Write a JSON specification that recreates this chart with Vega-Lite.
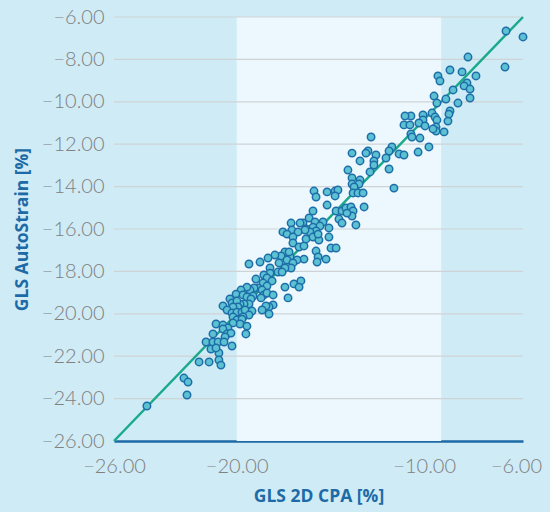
{
  "$schema": "https://vega.github.io/schema/vega-lite/v6.json",
  "width": 409,
  "height": 424,
  "autosize": {"type": "none"},
  "padding": {"left": 114, "top": 17, "right": 27, "bottom": 71},
  "background": "#cfebf6",
  "config": {"view": {"stroke": null}},
  "datasets": {
    "band": [{"x1": -20, "x2": -10, "y1": -26, "y2": -6}],
    "grid": [{"g": -24}, {"g": -22}, {"g": -20}, {"g": -18}, {"g": -16}, {"g": -14}, {"g": -12}, {"g": -10}, {"g": -8}, {"g": -6}],
    "ident": [{"cpa": -26, "auto": -26}, {"cpa": -6, "auto": -6}],
    "pts": [
      {"cpa": -24.39, "auto": -24.35}, {"cpa": -22.58, "auto": -23.03}, {"cpa": -22.38, "auto": -23.22}, {"cpa": -22.43, "auto": -23.83},
      {"cpa": -21.84, "auto": -22.27}, {"cpa": -21.35, "auto": -22.27}, {"cpa": -21.26, "auto": -21.66}, {"cpa": -20.87, "auto": -21.85},
      {"cpa": -20.87, "auto": -22.18}, {"cpa": -20.77, "auto": -22.42}, {"cpa": -16.22, "auto": -14.21}, {"cpa": -16.12, "auto": -14.49},
      {"cpa": -15.58, "auto": -14.25}, {"cpa": -15.19, "auto": -14.21}, {"cpa": -15.05, "auto": -14.16}, {"cpa": -15.19, "auto": -14.44},
      {"cpa": -15.58, "auto": -14.87}, {"cpa": -15.14, "auto": -15.15}, {"cpa": -14.85, "auto": -15.15}, {"cpa": -14.66, "auto": -15.01},
      {"cpa": -14.41, "auto": -14.96}, {"cpa": -14.31, "auto": -15.15}, {"cpa": -14.36, "auto": -15.39}, {"cpa": -14.61, "auto": -15.25},
      {"cpa": -14.17, "auto": -15.81}, {"cpa": -15.00, "auto": -15.53}, {"cpa": -14.85, "auto": -15.72}, {"cpa": -16.27, "auto": -15.15},
      {"cpa": -16.46, "auto": -15.48}, {"cpa": -16.76, "auto": -15.72}, {"cpa": -16.90, "auto": -15.72}, {"cpa": -16.61, "auto": -16.00},
      {"cpa": -16.17, "auto": -15.67}, {"cpa": -15.78, "auto": -15.67}, {"cpa": -15.93, "auto": -15.86}, {"cpa": -16.27, "auto": -15.91},
      {"cpa": -16.12, "auto": -16.09}, {"cpa": -16.42, "auto": -16.14}, {"cpa": -16.66, "auto": -16.05}, {"cpa": -17.34, "auto": -15.72},
      {"cpa": -17.30, "auto": -16.05}, {"cpa": -17.00, "auto": -16.14}, {"cpa": -17.74, "auto": -16.14}, {"cpa": -17.54, "auto": -16.24},
      {"cpa": -17.25, "auto": -16.38}, {"cpa": -17.25, "auto": -16.66}, {"cpa": -16.95, "auto": -16.85}, {"cpa": -16.71, "auto": -16.80},
      {"cpa": -16.61, "auto": -16.47}, {"cpa": -16.27, "auto": -16.38}, {"cpa": -15.98, "auto": -16.52}, {"cpa": -16.02, "auto": -16.24},
      {"cpa": -15.49, "auto": -15.95}, {"cpa": -15.49, "auto": -16.38}, {"cpa": -15.39, "auto": -16.90}, {"cpa": -15.14, "auto": -16.90},
      {"cpa": -16.12, "auto": -17.04}, {"cpa": -16.02, "auto": -17.32}, {"cpa": -16.07, "auto": -17.56}, {"cpa": -15.63, "auto": -17.42},
      {"cpa": -16.71, "auto": -17.42}, {"cpa": -17.05, "auto": -17.46}, {"cpa": -17.39, "auto": -17.32}, {"cpa": -17.64, "auto": -17.08},
      {"cpa": -17.44, "auto": -17.08}, {"cpa": -17.83, "auto": -17.27}, {"cpa": -17.93, "auto": -17.60}, {"cpa": -18.13, "auto": -17.23},
      {"cpa": -18.47, "auto": -17.37}, {"cpa": -18.86, "auto": -17.56}, {"cpa": -19.40, "auto": -17.65}, {"cpa": -17.54, "auto": -17.46},
      {"cpa": -17.25, "auto": -17.60}, {"cpa": -17.34, "auto": -17.84}, {"cpa": -17.64, "auto": -17.84}, {"cpa": -17.98, "auto": -18.03},
      {"cpa": -17.78, "auto": -18.03}, {"cpa": -18.37, "auto": -17.84}, {"cpa": -18.37, "auto": -18.08}, {"cpa": -18.67, "auto": -18.17},
      {"cpa": -18.52, "auto": -18.31}, {"cpa": -18.27, "auto": -18.45}, {"cpa": -19.06, "auto": -18.36}, {"cpa": -18.71, "auto": -18.55},
      {"cpa": -18.52, "auto": -18.69}, {"cpa": -18.96, "auto": -18.78}, {"cpa": -18.76, "auto": -18.88}, {"cpa": -18.67, "auto": -19.11},
      {"cpa": -18.81, "auto": -19.25}, {"cpa": -18.52, "auto": -19.02}, {"cpa": -18.22, "auto": -19.11}, {"cpa": -17.64, "auto": -18.74},
      {"cpa": -17.20, "auto": -18.59}, {"cpa": -16.86, "auto": -18.45}, {"cpa": -16.95, "auto": -18.74}, {"cpa": -17.49, "auto": -19.25},
      {"cpa": -18.22, "auto": -19.58}, {"cpa": -18.42, "auto": -19.68}, {"cpa": -18.57, "auto": -19.63}, {"cpa": -18.76, "auto": -19.82},
      {"cpa": -18.42, "auto": -20.01}, {"cpa": -19.15, "auto": -18.78}, {"cpa": -19.35, "auto": -18.88}, {"cpa": -19.20, "auto": -19.16},
      {"cpa": -19.50, "auto": -18.74}, {"cpa": -19.79, "auto": -18.88}, {"cpa": -20.03, "auto": -19.07}, {"cpa": -19.69, "auto": -19.11},
      {"cpa": -19.50, "auto": -19.21}, {"cpa": -19.30, "auto": -19.30}, {"cpa": -19.40, "auto": -19.54}, {"cpa": -19.64, "auto": -19.54},
      {"cpa": -19.84, "auto": -19.54}, {"cpa": -20.33, "auto": -19.30}, {"cpa": -20.23, "auto": -19.49}, {"cpa": -19.99, "auto": -19.40},
      {"cpa": -19.94, "auto": -19.68}, {"cpa": -20.18, "auto": -19.68}, {"cpa": -20.67, "auto": -19.63}, {"cpa": -20.47, "auto": -19.82},
      {"cpa": -20.23, "auto": -19.96}, {"cpa": -19.99, "auto": -19.92}, {"cpa": -19.74, "auto": -19.92}, {"cpa": -19.59, "auto": -19.82},
      {"cpa": -19.25, "auto": -19.87}, {"cpa": -19.40, "auto": -20.06}, {"cpa": -19.69, "auto": -20.15}, {"cpa": -20.18, "auto": -20.15},
      {"cpa": -19.99, "auto": -20.29}, {"cpa": -19.74, "auto": -20.25}, {"cpa": -19.84, "auto": -20.48}, {"cpa": -20.18, "auto": -20.43},
      {"cpa": -19.50, "auto": -20.58}, {"cpa": -19.55, "auto": -20.95}, {"cpa": -21.01, "auto": -20.48}, {"cpa": -20.67, "auto": -20.53},
      {"cpa": -20.43, "auto": -20.67}, {"cpa": -20.67, "auto": -20.72}, {"cpa": -20.47, "auto": -20.95}, {"cpa": -20.28, "auto": -20.91},
      {"cpa": -20.57, "auto": -21.09}, {"cpa": -21.16, "auto": -20.95}, {"cpa": -21.50, "auto": -21.33}, {"cpa": -21.16, "auto": -21.33},
      {"cpa": -20.91, "auto": -21.33}, {"cpa": -20.62, "auto": -21.33}, {"cpa": -20.23, "auto": -21.52}, {"cpa": -21.01, "auto": -21.61},
      {"cpa": -8.69, "auto": -7.89}, {"cpa": -8.30, "auto": -8.78}, {"cpa": -8.98, "auto": -8.59}, {"cpa": -9.57, "auto": -8.50},
      {"cpa": -10.16, "auto": -8.78}, {"cpa": -10.06, "auto": -9.02}, {"cpa": -8.74, "auto": -9.11}, {"cpa": -8.88, "auto": -9.25},
      {"cpa": -8.59, "auto": -9.40}, {"cpa": -9.42, "auto": -9.44}, {"cpa": -8.59, "auto": -9.82}, {"cpa": -9.77, "auto": -9.87},
      {"cpa": -9.18, "auto": -10.06}, {"cpa": -10.35, "auto": -9.73}, {"cpa": -10.21, "auto": -10.06}, {"cpa": -10.45, "auto": -10.53},
      {"cpa": -10.30, "auto": -10.72}, {"cpa": -10.21, "auto": -10.86}, {"cpa": -9.57, "auto": -10.43}, {"cpa": -9.62, "auto": -10.58},
      {"cpa": -9.67, "auto": -10.91}, {"cpa": -9.86, "auto": -11.42}, {"cpa": -10.25, "auto": -11.19}, {"cpa": -10.25, "auto": -11.38},
      {"cpa": -10.40, "auto": -11.28}, {"cpa": -10.89, "auto": -10.62}, {"cpa": -10.89, "auto": -10.86}, {"cpa": -11.09, "auto": -11.00},
      {"cpa": -10.79, "auto": -11.14}, {"cpa": -11.48, "auto": -10.67}, {"cpa": -11.77, "auto": -10.67}, {"cpa": -11.82, "auto": -11.09},
      {"cpa": -11.53, "auto": -11.09}, {"cpa": -11.48, "auto": -11.52}, {"cpa": -11.43, "auto": -11.66}, {"cpa": -11.04, "auto": -11.71},
      {"cpa": -10.60, "auto": -12.13}, {"cpa": -11.13, "auto": -12.37}, {"cpa": -13.43, "auto": -11.66}, {"cpa": -12.41, "auto": -12.13},
      {"cpa": -12.55, "auto": -12.32}, {"cpa": -12.70, "auto": -12.65}, {"cpa": -12.06, "auto": -12.46}, {"cpa": -11.82, "auto": -12.51},
      {"cpa": -13.58, "auto": -12.32}, {"cpa": -13.68, "auto": -12.42}, {"cpa": -13.19, "auto": -12.51}, {"cpa": -14.36, "auto": -12.42},
      {"cpa": -13.97, "auto": -12.79}, {"cpa": -13.29, "auto": -12.79}, {"cpa": -13.29, "auto": -12.98}, {"cpa": -13.48, "auto": -13.31},
      {"cpa": -12.55, "auto": -13.17}, {"cpa": -14.56, "auto": -13.22}, {"cpa": -14.36, "auto": -13.59}, {"cpa": -13.97, "auto": -13.69},
      {"cpa": -14.36, "auto": -13.88}, {"cpa": -14.02, "auto": -13.88}, {"cpa": -14.26, "auto": -14.02}, {"cpa": -12.31, "auto": -14.07},
      {"cpa": -14.31, "auto": -14.30}, {"cpa": -14.07, "auto": -14.30}, {"cpa": -13.82, "auto": -14.30}, {"cpa": -6.83, "auto": -6.66},
      {"cpa": -6.00, "auto": -6.94}, {"cpa": -6.88, "auto": -8.36}, {"cpa": -13.77, "auto": -14.96}
    ]
  },
  "layer": [
    {
      "data": {"name": "band"},
      "mark": {"type": "rect", "fill": "#ecf8fd"},
      "encoding": {
        "x": {
          "field": "x1", "type": "quantitative",
          "scale": {"domain": [-26, -6], "nice": false, "zero": false},
          "axis": {
            "title": "GLS 2D CPA [%]",
            "values": [-26, -20, -10, -6],
            "format": ".2f",
            "grid": false,
            "ticks": false,
            "domainColor": "#1d6aa6",
            "domainWidth": 2.5,
            "labelFont": "Lato",
            "labelFontWeight": 300,
            "labelFontSize": 20,
            "labelColor": "#808080",
            "labelPadding": 15,
            "labelFlush": false,
            "labelOffset": {"expr": "datum.value == -10 ? -17 : (datum.value == -6 ? -7 : 0)"},
            "titleFont": "Open Sans",
            "titleFontWeight": "bold",
            "titleFontSize": 17.5,
            "titleColor": "#1d6aa6",
            "titleY": 55,
            "titleBaseline": "middle"
          }
        },
        "x2": {"field": "x2"},
        "y": {
          "field": "y1", "type": "quantitative",
          "scale": {"domain": [-26, -6], "nice": false, "zero": false},
          "axis": {
            "title": "GLS AutoStrain [%]",
            "values": [-26, -24, -22, -20, -18, -16, -14, -12, -10, -8, -6],
            "format": ".2f",
            "grid": false,
            "ticks": false,
            "domain": false,
            "labelFont": "Lato",
            "labelFontWeight": 300,
            "labelFontSize": 20,
            "labelColor": "#808080",
            "labelPadding": 10,
            "labelFlush": false,
            "titleFont": "Open Sans",
            "titleFontWeight": "bold",
            "titleFontSize": 17.5,
            "titleColor": "#1d6aa6",
            "titleX": -92,
            "titleY": 212,
            "titleAngle": -90,
            "titleAlign": "center",
            "titleBaseline": "middle"
          }
        },
        "y2": {"field": "y2"}
      }
    },
    {
      "data": {"name": "grid"},
      "mark": {"type": "rule", "color": "#cfd3d6", "strokeWidth": 1.2},
      "encoding": {
        "y": {"field": "g", "type": "quantitative", "title": "GLS AutoStrain [%]"}
      }
    },
    {
      "data": {"name": "ident"},
      "mark": {"type": "line", "color": "#1aa98b", "strokeWidth": 2.5},
      "encoding": {
        "x": {"field": "cpa", "type": "quantitative", "title": "GLS 2D CPA [%]"},
        "y": {"field": "auto", "type": "quantitative", "title": "GLS AutoStrain [%]"}
      }
    },
    {
      "data": {"name": "pts"},
      "mark": {"type": "circle", "fill": "#5cc1d2", "fillOpacity": 1, "stroke": "#1d6ea8", "strokeWidth": 1.5, "size": 55},
      "encoding": {
        "x": {"field": "cpa", "type": "quantitative", "title": "GLS 2D CPA [%]"},
        "y": {"field": "auto", "type": "quantitative", "title": "GLS AutoStrain [%]"}
      }
    }
  ]
}
